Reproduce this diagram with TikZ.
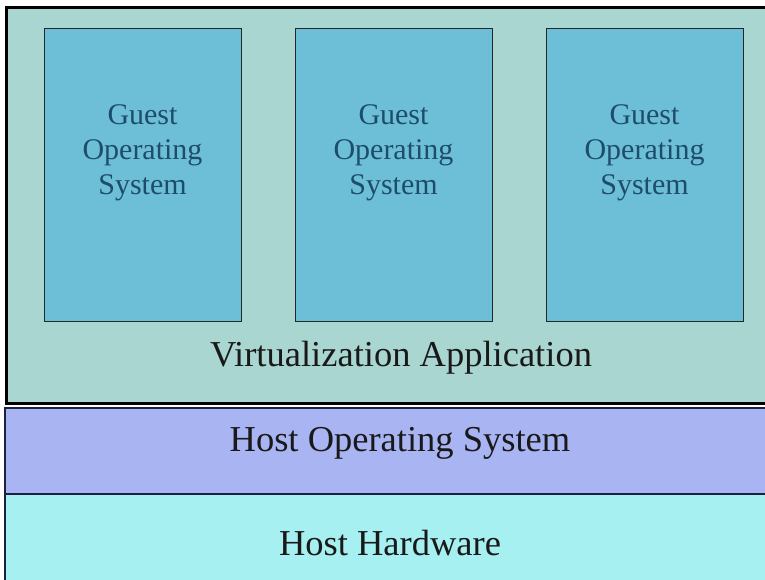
\documentclass[tikz,border=0pt]{standalone}
\usepackage{fontspec}
\setmainfont{Liberation Serif}
\definecolor{outerfill}{HTML}{A9D6D1}
\definecolor{guestfill}{HTML}{6DBFD8}
\definecolor{guesttext}{HTML}{1E4D6B}
\definecolor{hostosfill}{HTML}{A9B4F3}
\definecolor{hwfill}{HTML}{A6F0F1}
\definecolor{layerline}{HTML}{1A2240}
\begin{document}
\begin{tikzpicture}[x=1pt,y=-1pt,
  guest/.style={draw=black!85, line width=1pt, fill=guestfill},
  guestlabel/.style={align=center, text=guesttext, font=\fontsize{30}{35}\selectfont},
  layerlabel/.style={text=black!90, font=\fontsize{36.5}{40}\selectfont}]
\useasboundingbox (0,0) rectangle (765,579);
\fill[white] (0,0) rectangle (765,579);
% outer virtualization application box
\draw[fill=outerfill, line width=3pt] (6,7) rectangle (775,403);
% guest boxes
\draw[guest] (44,28) rectangle (241,321);
\draw[guest] (295,28) rectangle (492,321);
\draw[guest] (546,28) rectangle (743,321);
\node[guestlabel] (g1) at (142.5,153) {Guest\\Operating\\System};
\node[guestlabel] (g2) at (393.5,153) {Guest\\Operating\\System};
\node[guestlabel] (g3) at (644.5,153) {Guest\\Operating\\System};
\node[layerlabel] (va) at (401,358) {Virtualization Application};
% host OS
\draw[fill=hostosfill, draw=layerline, line width=1.2pt] (5,408) rectangle (775,494);
\node[layerlabel] (hos) at (400,443) {Host Operating System};
% host hardware
\draw[fill=hwfill, draw=layerline, line width=1.2pt] (5,494) rectangle (775,590);
\node[layerlabel] (hw) at (390,543) {Host Hardware};
\end{tikzpicture}
\end{document}
